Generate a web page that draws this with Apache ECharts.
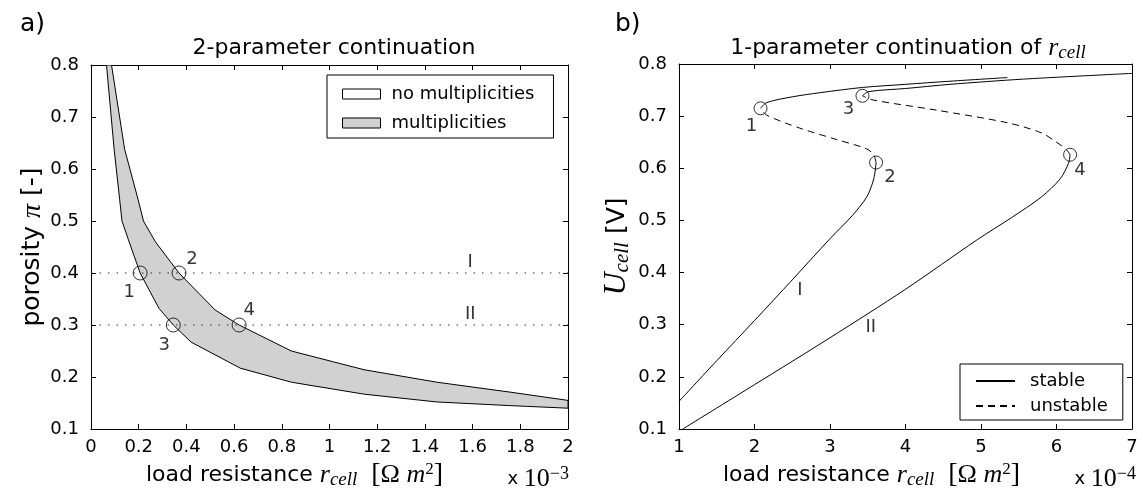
<!DOCTYPE html>
<html><head><meta charset="utf-8">
<script src="https://cdn.jsdelivr.net/npm/echarts@6/dist/echarts.min.js"></script>
<style>html,body{margin:0;padding:0;background:#fff}#c{width:1143px;height:494px}</style>
</head><body><div id="c"></div>
<script>
// ---------------- data ----------------
// panel a) : 2-parameter continuation (x in 1e-3 Ohm m^2)
const xTicksA = [0, 0.2, 0.4, 0.6, 0.8, 1, 1.2, 1.4, 1.6, 1.8, 2];
const yTicks = [0.1, 0.2, 0.3, 0.4, 0.5, 0.6, 0.7, 0.8];
const lowerBoundX = [0.065, 0.097, 0.12, 0.13, 0.156, 0.206, 0.285, 0.345, 0.42, 0.626, 0.84, 1.145, 1.45, 1.756, 2.0];
const lowerBoundY = [0.8, 0.638, 0.542, 0.5, 0.465, 0.4, 0.332, 0.3, 0.267, 0.217, 0.19, 0.167, 0.152, 0.145, 0.14];
const upperBoundX = [0.086, 0.141, 0.197, 0.22, 0.27, 0.369, 0.52, 0.621, 0.84, 1.145, 1.45, 1.756, 2.0];
const upperBoundY = [0.8, 0.638, 0.542, 0.5, 0.46, 0.4, 0.329, 0.3, 0.25, 0.214, 0.19, 0.171, 0.155];
const porosityLevels = [0.4, 0.3];
const levelNames = ['I', 'II'];
const levelNameX_A = [1.59, 1.59];
const levelNameY_A = [0.421, 0.32];
const foldNames = ['1', '2', '3', '4'];
const foldX_A = [0.206, 0.369, 0.345, 0.621];
const foldY_A = [0.4, 0.4, 0.3, 0.3];

// panel b) : 1-parameter continuation (x in 1e-4 Ohm m^2)
const xTicksB = [1, 2, 3, 4, 5, 6, 7];
const I_stableLowX = [1.0, 1.5, 2.0, 2.5, 3.0, 3.3, 3.49, 3.58, 3.61];
const I_stableLowY = [0.153, 0.231, 0.308, 0.386, 0.465, 0.51, 0.546, 0.58, 0.611];
const I_unstableX = [3.61, 3.58, 3.49, 3.09, 2.6, 2.16, 2.08];
const I_unstableY = [0.611, 0.625, 0.637, 0.655, 0.677, 0.702, 0.715];
const I_stableHighX = [2.08, 2.16, 2.5, 2.87, 3.43, 4.0, 4.59, 5.35];
const I_stableHighY = [0.715, 0.726, 0.737, 0.745, 0.755, 0.761, 0.767, 0.774];
const II_stableLowX = [1.05, 2.0, 3.0, 4.0, 4.95, 5.4, 5.8, 6.05, 6.16, 6.18];
const II_stableLowY = [0.1, 0.185, 0.275, 0.368, 0.463, 0.505, 0.545, 0.58, 0.61, 0.626];
const II_unstableX = [6.18, 6.13, 5.99, 5.8, 5.36, 4.39, 3.57, 3.43];
const II_unstableY = [0.626, 0.636, 0.651, 0.668, 0.687, 0.712, 0.731, 0.739];
const II_stableHighX = [3.43, 3.51, 4.0, 4.59, 5.56, 7.0];
const II_stableHighY = [0.739, 0.747, 0.753, 0.761, 0.771, 0.782];
const foldX_B = [2.08, 3.61, 3.43, 6.18];
const foldY_B = [0.715, 0.611, 0.739, 0.626];
const levelNameX_B = [2.6, 3.54];
const levelNameY_B = [0.365, 0.295];

// ---------------- styling ----------------
const SANS = 'DejaVu Sans';
const SERIF = 'Liberation Serif';
const foldLabelOffsetA = [[-11, 19], [13, -14], [-9, 20], [10, -15]];
const foldLabelOffsetB = [[-9, 18], [14, 15], [-14, 14], [10, 16]];

const zip = (xs, ys) => xs.map((x, i) => [x, ys[i]]);

function mathRich(base) {
  return {
    s: { fontFamily: SANS, fontSize: base, lineHeight: 28, color: '#000' },
    r: { fontFamily: SERIF, fontStyle: 'italic', fontSize: base + 4, lineHeight: 28, color: '#000' },
    sub: { fontFamily: SERIF, fontStyle: 'italic', fontSize: base - 3, lineHeight: 15, verticalAlign: 'bottom', color: '#000' },
    br: { fontFamily: SERIF, fontSize: base + 6, lineHeight: 28, color: '#000' },
    up: { fontFamily: SERIF, fontSize: base + 4, lineHeight: 28, color: '#000' },
    sup: { fontFamily: SERIF, fontSize: base - 5, lineHeight: 15, verticalAlign: 'top', color: '#000' }
  };
}

function baseAxis(extra) {
  return Object.assign({
    type: 'value',
    axisLine: { show: true, onZero: false, lineStyle: { color: '#000', width: 1 } },
    axisTick: { show: true, inside: true, length: 5, lineStyle: { color: '#000', width: 1 } },
    splitLine: { show: false },
    axisLabel: { color: '#000', fontFamily: SANS, fontSize: 18 }
  }, extra);
}

const fmt1 = v => String(Math.round(v * 10) / 10);
const fmtY = v => (Math.round(v * 10) / 10).toFixed(1);

const xName = '{s|load resistance }{r|r}{sub|cell}{s|  }{br|[}{up|Ω }{r|m}{sup|2}{br|]}';

const chart = echarts.init(document.getElementById('c'));

const lowerPts = zip(lowerBoundX, lowerBoundY);
const upperPts = zip(upperBoundX, upperBoundY);

function lineSeries(name, xs, ys, dashed) {
  return {
    type: 'line', name: name, xAxisIndex: 2, yAxisIndex: 2,
    data: zip(xs, ys), symbol: 'none', smooth: 0.3,
    color: '#000',
    lineStyle: { color: '#000', width: 1, type: dashed ? [7, 5] : 'solid' },
    clip: true, z: 3
  };
}

const yNameRich = {
  s: { fontFamily: SANS, fontSize: 25, lineHeight: 32, color: '#000' },
  r: { fontFamily: SERIF, fontStyle: 'italic', fontSize: 28, lineHeight: 32, color: '#000' },
  U: { fontFamily: SERIF, fontStyle: 'italic', fontSize: 32, lineHeight: 32, color: '#000' },
  sub: { fontFamily: SERIF, fontStyle: 'italic', fontSize: 21, lineHeight: 16, verticalAlign: 'bottom', color: '#000' }
};

const option = {
  animation: false,
  backgroundColor: '#fff',
  grid: [
    { left: 91, top: 65, width: 477, height: 367 },
    { left: 679, top: 64, width: 453, height: 366 }
  ],
  xAxis: [
    baseAxis({ gridIndex: 0, position: 'bottom', min: xTicksA[0], max: xTicksA[xTicksA.length - 1], interval: 0.2,
      axisLabel: { color: '#000', fontFamily: SANS, fontSize: 18, margin: 9, formatter: fmt1 },
      name: xName, nameLocation: 'middle', nameGap: 32,
      nameTextStyle: { rich: mathRich(22), padding: [0, 70, 0, 0] } }),
    baseAxis({ gridIndex: 0, position: 'top', min: 0, max: 2, interval: 0.2, axisLabel: { show: false } }),
    baseAxis({ gridIndex: 1, position: 'bottom', min: xTicksB[0], max: xTicksB[xTicksB.length - 1], interval: 1,
      axisLabel: { color: '#000', fontFamily: SANS, fontSize: 18, margin: 9, formatter: fmt1 },
      name: xName, nameLocation: 'middle', nameGap: 32,
      nameTextStyle: { rich: mathRich(22), padding: [0, 68, 0, 0] } }),
    baseAxis({ gridIndex: 1, position: 'top', min: 1, max: 7, interval: 1, axisLabel: { show: false } })
  ],
  yAxis: [
    baseAxis({ gridIndex: 0, position: 'left', min: yTicks[0], max: yTicks[yTicks.length - 1], interval: 0.1,
      axisLabel: { color: '#000', fontFamily: SANS, fontSize: 18, margin: 12, formatter: fmtY },
      name: '{s|porosity }{r|π}{s| [-]}', nameLocation: 'middle', nameGap: 42,
      nameTextStyle: { rich: yNameRich } }),
    baseAxis({ gridIndex: 0, position: 'right', min: 0.1, max: 0.8, interval: 0.1, axisLabel: { show: false } }),
    baseAxis({ gridIndex: 1, position: 'left', min: yTicks[0], max: yTicks[yTicks.length - 1], interval: 0.1,
      axisLabel: { color: '#000', fontFamily: SANS, fontSize: 18, margin: 12, formatter: fmtY },
      name: '{U|U}{sub|cell}{s| [V]}', nameLocation: 'middle', nameGap: 46,
      nameTextStyle: { rich: yNameRich } }),
    baseAxis({ gridIndex: 1, position: 'right', min: 0.1, max: 0.8, interval: 0.1, axisLabel: { show: false } })
  ],
  legend: [
    {
      left: 327, top: 75, orient: 'vertical', selectedMode: false,
      data: [
        { name: 'no multiplicities', icon: 'rect', itemStyle: { color: '#fff', borderColor: '#000', borderWidth: 1 } },
        { name: 'multiplicities', icon: 'rect', itemStyle: { color: '#d1d1d1', borderColor: '#000', borderWidth: 1 } }
      ],
      itemWidth: 38, itemHeight: 10, itemGap: 9,
      textStyle: { fontFamily: SANS, fontSize: 18, color: '#000', lineHeight: 20, padding: [0, 0, 0, 6] },
      padding: [9, 19, 5, 15], borderColor: '#000', borderWidth: 1, backgroundColor: '#fff'
    },
    {
      left: 960, top: 364, orient: 'vertical', selectedMode: false,
      data: [
        { name: 'stable', itemStyle: { opacity: 0 } },
        { name: 'unstable', itemStyle: { opacity: 0 } }
      ],
      itemWidth: 39, itemHeight: 14, itemGap: 7,
      textStyle: { fontFamily: SANS, fontSize: 18, color: '#000', lineHeight: 14, padding: [0, 0, 0, 10] },
      padding: [8, 15, 5, 15], borderColor: '#000', borderWidth: 1, backgroundColor: '#fff'
    }
  ],
  graphic: [
    { type: 'text', x: 20, y: 24, style: { text: 'a)', fontFamily: SANS, fontSize: 25, fill: '#000', align: 'left', verticalAlign: 'middle' } },
    { type: 'text', x: 615, y: 24, style: { text: 'b)', fontFamily: SANS, fontSize: 25, fill: '#000', align: 'left', verticalAlign: 'middle' } },
    { type: 'text', x: 334, y: 48, style: { text: '{s|2-parameter continuation}', rich: mathRich(22), align: 'center', verticalAlign: 'middle' } },
    { type: 'text', x: 908, y: 48, style: { text: '{s|1-parameter continuation of }{r|r}{sub|cell}', rich: mathRich(22), align: 'center', verticalAlign: 'middle' } },
    { type: 'text', x: 569, y: 479, style: { text: '{s|x }{up|10}{sup|−3}', rich: {
        s: { fontFamily: SANS, fontSize: 18, lineHeight: 28, color: '#000' },
        up: { fontFamily: SERIF, fontSize: 26, lineHeight: 28, color: '#000' },
        sup: { fontFamily: SERIF, fontSize: 18, lineHeight: 14, verticalAlign: 'top', color: '#000' } },
      align: 'right', verticalAlign: 'middle' } },
    { type: 'text', x: 1136, y: 479, style: { text: '{s|x }{up|10}{sup|−4}', rich: {
        s: { fontFamily: SANS, fontSize: 18, lineHeight: 28, color: '#000' },
        up: { fontFamily: SERIF, fontSize: 26, lineHeight: 28, color: '#000' },
        sup: { fontFamily: SERIF, fontSize: 18, lineHeight: 14, verticalAlign: 'top', color: '#000' } },
      align: 'right', verticalAlign: 'middle' } }
  ],
  series: [
    // legend placeholder for white region
    { type: 'line', name: 'no multiplicities', xAxisIndex: 0, yAxisIndex: 0, data: [] },
    {
      type: 'custom', name: 'multiplicities', xAxisIndex: 0, yAxisIndex: 0,
      data: [[1, 0.5]], clip: true, silent: true, z: 1,
      renderItem: function (params, api) {
        const pts = upperPts.concat(lowerPts.slice().reverse()).map(p => api.coord(p));
        return { type: 'polygon', shape: { points: pts }, style: { fill: '#d1d1d1', stroke: '#000', lineWidth: 1 } };
      }
    },
    {
      type: 'line', name: 'level I', xAxisIndex: 0, yAxisIndex: 0, symbol: 'none', z: 2,
      data: [[xTicksA[0], porosityLevels[0]], [xTicksA[xTicksA.length - 1], porosityLevels[0]]],
      lineStyle: { color: '#333', width: 1.2, type: [1.5, 7] }
    },
    {
      type: 'line', name: 'level II', xAxisIndex: 0, yAxisIndex: 0, symbol: 'none', z: 2,
      data: [[xTicksA[0], porosityLevels[1]], [xTicksA[xTicksA.length - 1], porosityLevels[1]]],
      lineStyle: { color: '#333', width: 1.2, type: [1.5, 7] }
    },
    {
      type: 'scatter', name: 'folds a', xAxisIndex: 0, yAxisIndex: 0, z: 5,
      symbol: 'circle', symbolSize: 14,
      itemStyle: { color: 'rgba(0,0,0,0)', borderColor: '#000', borderWidth: 1 },
      label: { show: true, position: 'inside', formatter: p => p.name, fontFamily: SANS, fontSize: 18, color: '#000' },
      data: foldNames.map((n, i) => ({ name: n, value: [foldX_A[i], foldY_A[i]], label: { offset: foldLabelOffsetA[i] } }))
    },
    {
      type: 'scatter', name: 'levels a', xAxisIndex: 0, yAxisIndex: 0, z: 5, symbolSize: 0,
      label: { show: true, position: 'inside', formatter: p => p.name, fontFamily: SANS, fontSize: 18, color: '#000' },
      data: levelNames.map((n, i) => ({ name: n, value: [levelNameX_A[i], levelNameY_A[i]] }))
    },
    lineSeries('stable', I_stableLowX, I_stableLowY, false),
    lineSeries('unstable', I_unstableX, I_unstableY, true),
    lineSeries('stable', I_stableHighX, I_stableHighY, false),
    lineSeries('stable', II_stableLowX, II_stableLowY, false),
    lineSeries('unstable', II_unstableX, II_unstableY, true),
    lineSeries('stable', II_stableHighX, II_stableHighY, false),
    {
      type: 'scatter', name: 'folds b', xAxisIndex: 2, yAxisIndex: 2, z: 5,
      symbol: 'circle', symbolSize: 13,
      itemStyle: { color: 'rgba(0,0,0,0)', borderColor: '#000', borderWidth: 1 },
      label: { show: true, position: 'inside', formatter: p => p.name, fontFamily: SANS, fontSize: 18, color: '#000' },
      data: foldNames.map((n, i) => ({ name: n, value: [foldX_B[i], foldY_B[i]], label: { offset: foldLabelOffsetB[i] } }))
    },
    {
      type: 'scatter', name: 'levels b', xAxisIndex: 2, yAxisIndex: 2, z: 5, symbolSize: 0,
      label: { show: true, position: 'inside', formatter: p => p.name, fontFamily: SANS, fontSize: 18, color: '#000' },
      data: levelNames.map((n, i) => ({ name: n, value: [levelNameX_B[i], levelNameY_B[i]] }))
    }
  ]
};
chart.setOption(option);
</script>
</body></html>
